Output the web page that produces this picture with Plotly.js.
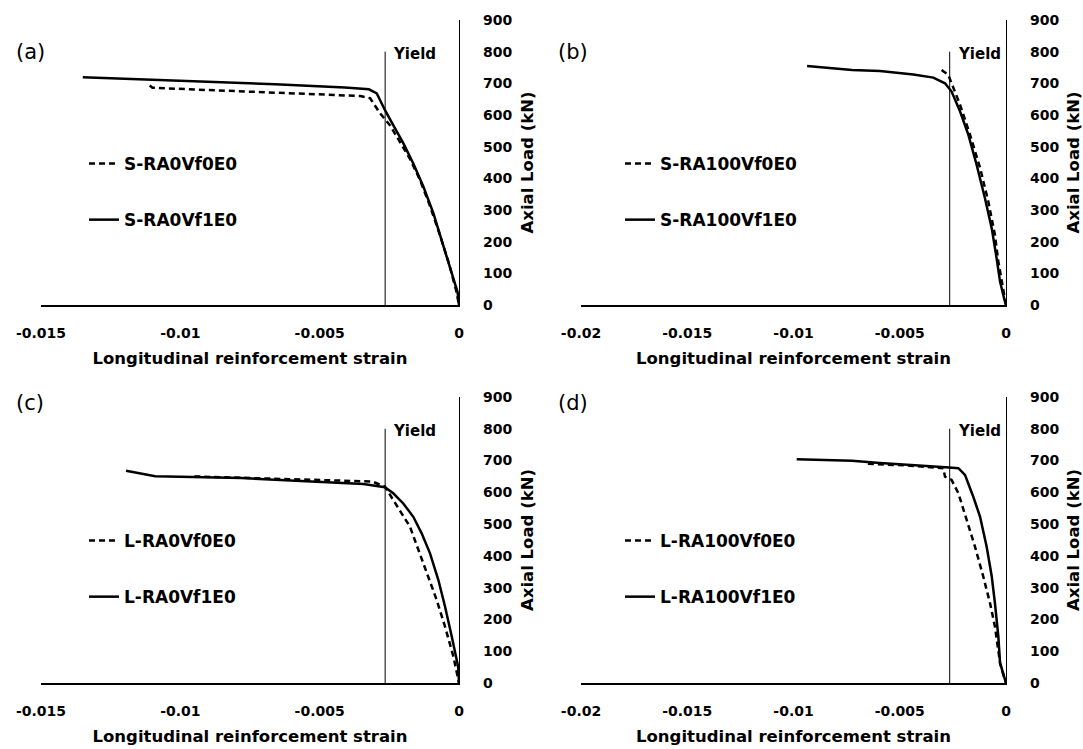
<!DOCTYPE html>
<html>
<head>
<meta charset="utf-8">
<script src="https://cdn.plot.ly/plotly-3.0.1.min.js"></script>
<style>html,body{margin:0;padding:0;background:#fff;}#chart{width:1083px;height:749px;}</style>
</head>
<body>
<div id="chart"></div>
<script>
// ---- Data ----
const yieldStrain = -0.00265;
const yieldTop = 800;

// (a)
const strainA0 = [-0.0111, -0.0110, -0.00905, -0.00657, -0.0041, -0.00354, -0.00319, -0.00283, -0.00248, -0.00212, -0.00175, -0.0014, -0.00105, -0.0007, -0.00035, -0.0001, 0];
const loadA0   = [693, 686, 679, 670, 663, 660, 653, 605, 568, 516, 460, 395, 315, 225, 128, 45, 0];
const strainA1 = [-0.0135, -0.0115, -0.00905, -0.0066, -0.0041, -0.00323, -0.00295, -0.00266, -0.00236, -0.0020, -0.00164, -0.00128, -0.00092, -0.00056, -0.00026, -0.00005, 0];
const loadA1   = [719, 713, 705, 697, 687, 681, 668, 616, 568, 511, 447, 374, 290, 184, 100, 40, 0];

// (b)
const strainB0 = [-0.00303, -0.00271, -0.00256, -0.0024, -0.00216, -0.00169, -0.00122, -0.00083, -0.00052, -0.00036, -0.00015, 0];
const loadB0   = [742, 726, 700, 674, 632, 537, 433, 326, 221, 137, 50, 0];
const strainB1 = [-0.00936, -0.00725, -0.00593, -0.00436, -0.00342, -0.00287, -0.00256, -0.00216, -0.00177, -0.00138, -0.00099, -0.00067, -0.00044, -0.00028, -0.00007, 0];
const loadB1   = [755, 742, 739, 728, 718, 700, 674, 611, 537, 442, 337, 242, 147, 74, 16, 0];

// (c)
const strainC0 = [-0.0095, -0.0075, -0.0055, -0.0041, -0.00311, -0.00266, -0.00242, -0.00206, -0.00176, -0.00146, -0.00116, -0.0008, -0.0005, -0.0002, 0];
const loadC0   = [650, 645, 640, 638, 634, 618, 586, 534, 492, 419, 345, 261, 177, 83, 0];
const strainC1 = [-0.01195, -0.0109, -0.00781, -0.00534, -0.00463, -0.00343, -0.00266, -0.00236, -0.0020, -0.00164, -0.00134, -0.00104, -0.00074, -0.0005, -0.00026, -0.00003, 0];
const loadC1   = [668, 651, 645, 634, 630, 626, 616, 597, 565, 523, 471, 408, 324, 240, 146, 51, 0];

// (d)
const strainD0 = [-0.0065, -0.0045, -0.00295, -0.00287, -0.00256, -0.00224, -0.00185, -0.00146, -0.00107, -0.00075, -0.00052, -0.00036, -0.00028, -0.0001, 0];
const loadD0   = [690, 684, 676, 649, 639, 597, 513, 429, 335, 251, 177, 104, 63, 20, 0];
const strainD1 = [-0.00985, -0.00725, -0.00593, -0.00398, -0.00284, -0.00224, -0.00193, -0.00154, -0.00122, -0.00091, -0.00067, -0.00052, -0.00036, -0.00028, -0.0001, 0];
const loadD1   = [704, 699, 692, 685, 679, 676, 655, 586, 523, 429, 335, 251, 146, 63, 20, 0];

const namesA = ['S-RA0Vf0E0', 'S-RA0Vf1E0'];
const namesB = ['S-RA100Vf0E0', 'S-RA100Vf1E0'];
const namesC = ['L-RA0Vf0E0', 'L-RA0Vf1E0'];
const namesD = ['L-RA100Vf0E0', 'L-RA100Vf1E0'];
const panelLabels = ['(a)', '(b)', '(c)', '(d)'];

const xTickValsA = [-0.015, -0.01, -0.005, 0];
const xTickTextA = ['-0.015', '-0.01', '-0.005', '0'];
const xTickValsB = [-0.02, -0.015, -0.01, -0.005, 0];
const xTickTextB = ['-0.02', '-0.015', '-0.01', '-0.005', '0'];
const yTickVals = [0, 100, 200, 300, 400, 500, 600, 700, 800, 900];
const yTickText = ['0', '100', '200', '300', '400', '500', '600', '700', '800', '900'];

const xTitle = 'Longitudinal reinforcement strain';
const yTitle = 'Axial Load (kN)';

// ---- Build ----
const FONT = 'DejaVu Sans';
const dashed = '6px,4px';
const panels = [
  {s0: strainA0, l0: loadA0, s1: strainA1, l1: loadA1, names: namesA, ax: '', leg: 'legend'},
  {s0: strainB0, l0: loadB0, s1: strainB1, l1: loadB1, names: namesB, ax: '2', leg: 'legend2'},
  {s0: strainC0, l0: loadC0, s1: strainC1, l1: loadC1, names: namesC, ax: '3', leg: 'legend3'},
  {s0: strainD0, l0: loadD0, s1: strainD1, l1: loadD1, names: namesD, ax: '4', leg: 'legend4'}
];

const traces = [];
panels.forEach((p) => {
  traces.push({x: p.s0, y: p.l0, xaxis: 'x' + p.ax, yaxis: 'y' + p.ax, mode: 'lines', name: p.names[0],
    line: {color: '#000', width: 2.5, dash: dashed}, legend: p.leg, legendgroup: p.leg + 'g0'});
  traces.push({x: p.s1, y: p.l1, xaxis: 'x' + p.ax, yaxis: 'y' + p.ax, mode: 'lines', name: p.names[1],
    line: {color: '#000', width: 2.5}, legend: p.leg, legendgroup: p.leg + 'g1'});
  traces.push({x: [yieldStrain, yieldStrain], y: [0, yieldTop], xaxis: 'x' + p.ax, yaxis: 'y' + p.ax,
    mode: 'lines', line: {color: '#000', width: 1}, showlegend: false, hoverinfo: 'skip'});
});

const W = 1083, H = 749;
const xdomL = [41 / W, 459 / W];
const xdomR = [581 / W, 1006 / W];
const ydomT = [1 - 305 / H, 1 - 20 / H];
const ydomB = [1 - 683 / H, 1 - 397 / H];

function xAxis(domain, vals, text, anchor) {
  return {
    domain: domain, anchor: anchor, range: [vals[0], 0], tickmode: 'array', tickvals: vals, ticktext: text,
    showgrid: false, zeroline: false, showline: true, linecolor: '#000', linewidth: 2, ticks: '',
    ticklabelstandoff: 14,
    tickfont: {family: FONT, size: 14, color: '#000', weight: 'bold'},
    title: {text: xTitle, font: {family: FONT, size: 16.5, color: '#000', weight: 'bold'}, standoff: 13}
  };
}
function yAxis(domain, anchor) {
  return {
    domain: domain, anchor: anchor, side: 'right', range: [0, 900], tickmode: 'array', tickvals: yTickVals, ticktext: yTickText,
    showgrid: false, zeroline: false, showline: true, linecolor: '#000', linewidth: 1.3, ticks: '',
    ticklabelstandoff: 20,
    tickfont: {family: FONT, size: 14, color: '#000', weight: 'bold'},
    title: {text: yTitle, font: {family: FONT, size: 16.5, color: '#000', weight: 'bold'}, standoff: 10}
  };
}
function legend(xpx, ypx) {
  return {x: xpx / W, y: 1 - ypx / H, xanchor: 'left', yanchor: 'top', bgcolor: 'rgba(0,0,0,0)',
    borderwidth: 0, traceorder: 'grouped', tracegroupgap: 31, itemwidth: 30,
    font: {family: FONT, size: 17, color: '#000', weight: 'bold'}};
}

const annotations = [];
const labelPos = [[14, 52], [556, 52], [14, 403], [556, 403]];
panelLabels.forEach((t, i) => {
  annotations.push({text: t, xref: 'paper', yref: 'paper', x: labelPos[i][0] / W, y: 1 - labelPos[i][1] / H,
    xanchor: 'left', yanchor: 'middle', showarrow: false, font: {family: FONT, size: 21, color: '#000'}});
});
panels.forEach((p) => {
  annotations.push({text: 'Yield', xref: 'x' + p.ax, yref: 'y' + p.ax, x: yieldStrain, y: yieldTop,
    xanchor: 'left', yanchor: 'middle', xshift: 6, yshift: -2, showarrow: false,
    font: {family: FONT, size: 15, color: '#000', weight: 'bold'}});
});

const layout = {
  width: W, height: H, margin: {l: 0, r: 0, t: 0, b: 0},
  paper_bgcolor: '#fff', plot_bgcolor: '#fff', showlegend: true,
  xaxis: xAxis(xdomL, xTickValsA, xTickTextA, 'y'),
  yaxis: yAxis(ydomT, 'x'),
  xaxis2: xAxis(xdomR, xTickValsB, xTickTextB, 'y2'),
  yaxis2: yAxis(ydomT, 'x2'),
  xaxis3: xAxis(xdomL, xTickValsA, xTickTextA, 'y3'),
  yaxis3: yAxis(ydomB, 'x3'),
  xaxis4: xAxis(xdomR, xTickValsB, xTickTextB, 'y4'),
  yaxis4: yAxis(ydomB, 'x4'),
  legend: legend(84, 146),
  legend2: legend(620, 146),
  legend3: legend(84, 523),
  legend4: legend(620, 523),
  annotations: annotations
};

Plotly.newPlot('chart', traces, layout, {displayModeBar: false, staticPlot: true});
</script>
</body>
</html>
